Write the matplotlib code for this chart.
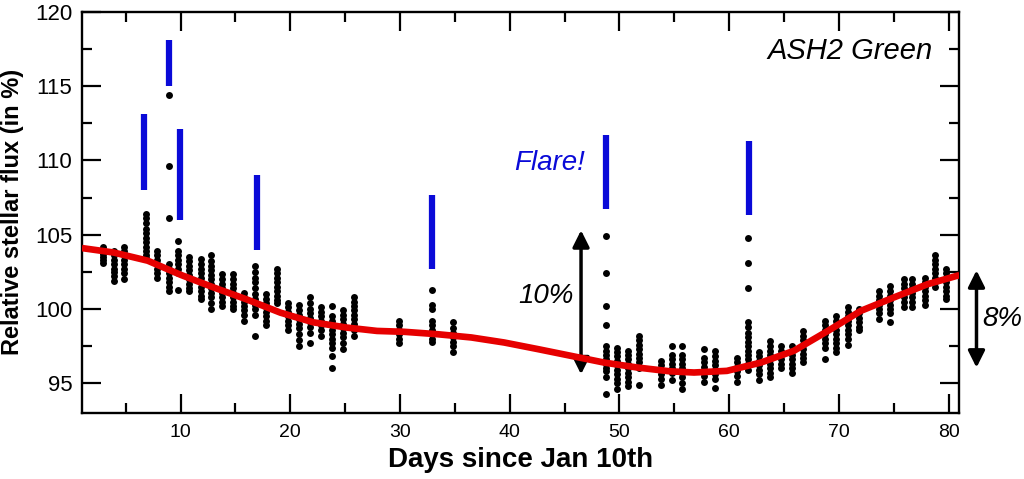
import matplotlib
matplotlib.use("Agg")
import matplotlib.pyplot as plt
from matplotlib.ticker import MultipleLocator

plt.rcParams['font.family'] = ['Liberation Sans', 'DejaVu Sans']

# nights of observation (days since Jan 10th) and the flux points of each night
night_days = [2.9, 3.9, 4.8, 6.8, 7.8, 8.9, 9.8, 10.8, 11.9, 12.8, 13.8, 14.8,
              15.8, 16.8, 17.8, 18.8, 19.8, 20.8, 21.8, 22.8, 23.8, 24.8, 25.8,
              29.9, 32.9, 34.8, 48.8, 49.8, 50.8, 51.8, 53.8, 54.8, 55.7, 57.7,
              58.7, 60.7, 61.7, 62.7, 63.7, 64.7, 65.7, 66.7, 68.7, 69.7, 70.8,
              71.8, 73.7, 74.7, 75.9, 76.7, 77.9, 78.8, 79.8]

night_flux = [
    [104.2, 103.9, 103.7, 103.5, 103.3, 103.1],
    [103.9, 103.6, 103.3, 103.0, 102.7, 102.5, 102.2, 101.9],
    [104.2, 103.9, 103.6, 103.3, 103.0, 102.7, 102.4, 102.0],
    [106.4, 106.1, 105.8, 105.4, 105.1, 104.8, 104.5, 104.2, 103.9, 103.6, 103.4],
    [103.9, 103.6, 103.3, 103.0, 102.7, 102.4, 102.1],
    [114.4, 109.6, 106.1, 103.0, 102.7, 102.4, 102.1, 101.8, 101.5, 101.2],
    [104.6, 103.9, 103.6, 103.3, 103.0, 102.7, 102.4, 101.3],
    [103.5, 103.2, 102.9, 102.6, 102.3, 102.0, 101.7, 101.4, 101.2],
    [103.35, 103.0, 102.7, 102.4, 102.1, 101.8, 101.5, 101.2, 100.9, 100.7],
    [103.6, 103.2, 102.9, 102.6, 102.3, 102.0, 101.7, 101.4, 101.1, 100.8, 100.4, 100.0],
    [102.35, 102.0, 101.7, 101.4, 101.1, 100.8, 100.5, 100.2],
    [102.35, 102.0, 101.7, 101.4, 101.1, 100.8, 100.5, 100.2, 100.0],
    [101.1, 100.8, 100.5, 100.2, 99.9, 99.6, 99.2],
    [102.9, 102.5, 102.1, 101.8, 101.4, 101.0, 100.7, 100.3, 100.0, 99.6, 98.2],
    [101.0, 100.7, 100.4, 100.1, 99.8, 99.5, 99.2, 98.9],
    [102.7, 102.4, 102.1, 101.8, 101.5, 101.2, 100.9, 100.6, 100.4],
    [100.4, 100.1, 99.8, 99.5, 99.2, 98.9, 98.6],
    [100.3, 99.9, 99.6, 99.3, 99.0, 98.7, 98.3, 97.9, 97.5],
    [100.8, 100.4, 100.0, 99.7, 99.4, 99.1, 98.8, 98.4, 97.7],
    [100.1, 99.8, 99.5, 99.2, 98.9, 98.6, 98.2],
    [100.2, 99.5, 99.2, 98.9, 98.6, 98.3, 98.0, 97.7, 97.4, 96.8, 96.0],
    [99.9, 99.6, 99.3, 99.0, 98.7, 98.4, 98.1, 97.7, 97.3],
    [100.8, 100.5, 100.2, 99.9, 99.6, 99.3, 99.0, 98.6, 98.2],
    [99.2, 98.9, 98.6, 98.3, 98.0, 97.7],
    [101.3, 100.3, 100.0, 99.2, 98.9, 98.6, 98.3, 98.0, 97.8],
    [99.1, 98.7, 98.4, 98.1, 97.8, 97.5, 97.1],
    [104.9, 102.4, 100.2, 98.9, 97.5, 97.2, 96.9, 96.6, 96.3, 96.0, 95.8, 95.4, 94.3],
    [97.4, 97.1, 96.8, 96.5, 96.2, 95.9, 95.6, 95.3, 95.0, 94.6],
    [97.2, 96.9, 96.6, 96.3, 96.0, 95.7, 95.4, 95.1, 94.8],
    [98.2, 97.9, 97.6, 97.3, 97.0, 96.7, 96.4, 96.0, 94.9],
    [96.5, 96.2, 95.9, 95.6, 95.3, 94.9],
    [97.5, 96.9, 96.6, 96.3, 96.0, 95.7, 95.2],
    [97.5, 96.9, 96.6, 96.3, 96.0, 95.7, 95.4, 95.0, 94.6],
    [97.3, 96.7, 96.4, 96.1, 95.8, 95.5, 95.1],
    [97.2, 96.8, 96.5, 96.2, 95.9, 95.6, 95.3, 94.7],
    [96.7, 96.4, 96.1, 95.8, 95.5, 95.1],
    [104.8, 103.1, 101.4, 99.1, 98.8, 98.4, 98.1, 97.8, 97.5, 97.2, 96.9, 96.6, 96.3, 95.9],
    [97.1, 96.8, 96.5, 96.2, 95.9, 95.6, 95.2],
    [97.85, 97.5, 97.2, 96.9, 96.6, 96.3, 96.0, 95.7, 95.4],
    [97.5, 97.2, 96.9, 96.6, 96.3, 96.0],
    [97.5, 97.2, 96.9, 96.6, 96.3, 96.0, 95.7],
    [98.5, 98.2, 97.9, 97.6, 97.3, 97.0, 96.7, 96.4],
    [99.2, 98.9, 98.6, 98.3, 98.0, 97.7, 97.4, 96.6],
    [99.5, 99.2, 98.9, 98.6, 98.3, 98.0, 97.7, 97.4, 97.1],
    [100.1, 99.8, 99.5, 99.2, 98.9, 98.6, 98.3, 98.0, 97.6],
    [100.0, 99.7, 99.4, 99.1, 98.8, 98.6],
    [101.2, 100.9, 100.6, 100.3, 100.0, 99.7, 99.3],
    [101.55, 101.2, 100.9, 100.6, 100.3, 100.0, 99.7, 99.1],
    [102.0, 101.7, 101.4, 101.1, 100.8, 100.5, 100.1],
    [102.0, 101.7, 101.4, 101.1, 100.8, 100.5, 100.1],
    [102.1, 101.8, 101.5, 101.2, 100.9, 100.6, 100.3],
    [103.6, 103.3, 103.0, 102.7, 102.4, 102.1, 101.8, 101.45],
    [102.7, 102.4, 102.1, 101.8, 101.5, 101.2, 100.9, 100.66],
]

# smooth trend (red line)
curve_days = [1.0, 3.9, 7.0, 10.0, 13.0, 16.0, 19.1, 22.1, 25.1, 27.9, 30.4,
              33.4, 36.5, 39.5, 42.6, 45.6, 48.6, 51.6, 54.6, 56.8, 59.8, 62.9,
              65.9, 69.0, 72.0, 75.0, 78.1, 81.0]
curve_flux = [104.1, 103.8, 103.25, 102.3, 101.45, 100.65, 99.75, 99.1, 98.75,
              98.52, 98.46, 98.3, 98.08, 97.74, 97.29, 96.84, 96.39, 96.06, 95.8,
              95.72, 95.83, 96.39, 97.18, 98.52, 99.87, 100.77, 101.67, 102.28]

# flare markers (blue bars)
flare_days = [6.65, 8.9, 9.95, 17.0, 32.9, 48.8, 61.8]
flare_low = [108.0, 115.0, 106.0, 104.0, 102.7, 106.7, 106.3]
flare_high = [113.1, 118.1, 112.1, 109.0, 107.7, 111.7, 111.3]

fig = plt.figure(figsize=(10.24, 4.79), dpi=100)
ax = fig.add_axes([0.080, 0.138, 0.857, 0.837])

xs = []
ys = []
for d, vals in zip(night_days, night_flux):
    xs += [d] * len(vals)
    ys += vals
ax.plot(xs, ys, 'o', color='black', ms=5.0, mew=0, zorder=3)

ax.plot(curve_days, curve_flux, '-', color='#e60000', lw=4.8,
        solid_capstyle='butt', zorder=4)

ax.vlines(flare_days, flare_low, flare_high, color='#0a0ad8', lw=4.5, zorder=2)

ax.text(43.6, 109.8, 'Flare!', color='#0a0ad8', fontsize=20, style='italic',
        ha='center', va='center')
ax.text(78.6, 117.4, 'ASH2 Green', color='black', fontsize=21, style='italic',
        ha='right', va='center')
ax.text(43.3, 100.85, '10%', fontsize=20, style='italic', ha='center', va='center')
ax.text(84.9, 99.3, '8%', fontsize=20, style='italic', ha='center', va='center',
        clip_on=False)

arrow = dict(arrowstyle='<|-|>', color='black', lw=2.5, mutation_scale=25,
             shrinkA=0, shrinkB=0)
ax.annotate('', xy=(46.5, 95.6), xytext=(46.5, 105.3), arrowprops=arrow)
ax.annotate('', xy=(82.55, 96.05), xytext=(82.55, 102.6), arrowprops=arrow,
            annotation_clip=False)

ax.set_xlim(1, 81)
ax.set_ylim(93, 120)
ax.xaxis.set_major_locator(MultipleLocator(10))
ax.xaxis.set_minor_locator(MultipleLocator(5))
ax.yaxis.set_major_locator(MultipleLocator(5))
ax.yaxis.set_minor_locator(MultipleLocator(2.5))
ax.tick_params(which='both', direction='in', top=True, right=True, width=1.6)
ax.tick_params(which='major', length=14)
ax.tick_params(which='minor', length=7.5)
ax.tick_params(axis='x', labelsize=14, pad=8)
ax.tick_params(axis='y', labelsize=16, pad=7)
for s in ax.spines.values():
    s.set_linewidth(1.7)

ax.set_xlabel('Days since Jan 10th', fontsize=20, fontweight='bold', labelpad=4)
ax.set_ylabel('Relative stellar flux (in %)', fontsize=17, fontweight='bold',
              labelpad=8)

fig.savefig('out.png', dpi=100)
